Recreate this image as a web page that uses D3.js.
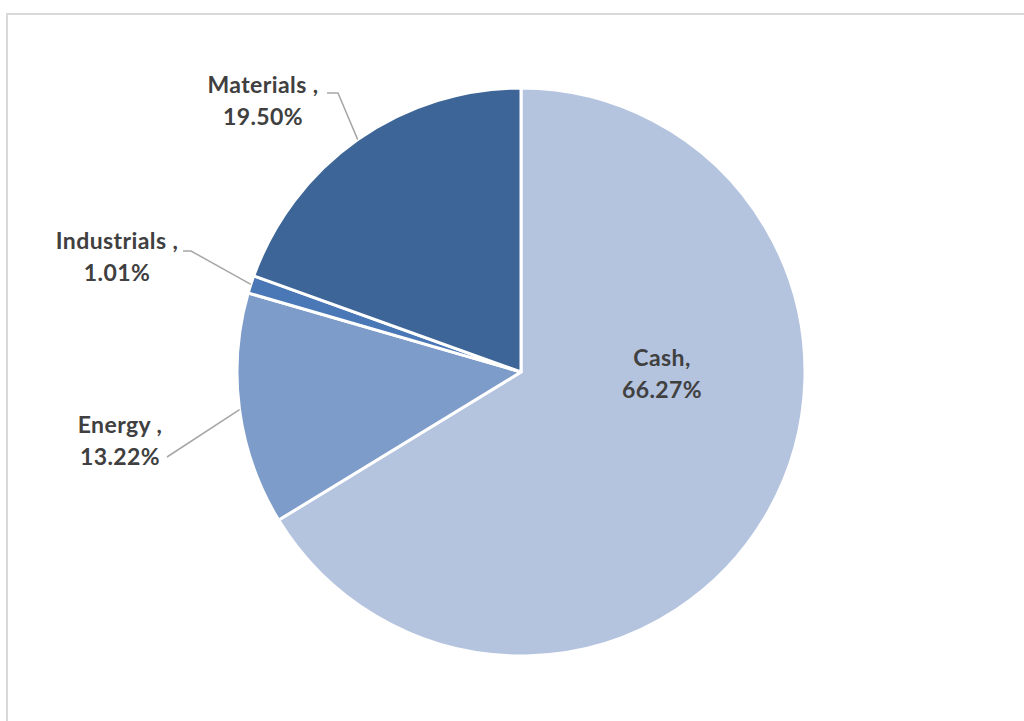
<!DOCTYPE html>
<html>
<head>
<meta charset="utf-8">
<script src="https://cdn.jsdelivr.net/npm/d3@7"></script>
<style>
  body { margin: 0; background: #fff; }
  text { font-family: Lato, "Open Sans", sans-serif; font-weight: bold; fill: #404040; }
</style>
</head>
<body>
<div id="chart"></div>
<script>
let w = 1024,
    h = 721;

// data, clockwise from 12 o'clock
let sectors = ["Cash", "Energy", "Industrials", "Materials"];
let shares = [66.27, 13.22, 1.01, 19.50];
let labelText = ["Cash,", "Energy ,", "Industrials ,", "Materials ,"];
let colors = ["#b4c3de", "#7e9cc9", "#4a78b6", "#3d6597"];

let cx = 521,
    cy = 372,
    radius = 284;

let svg = d3.select("#chart")
            .append("svg")
            .attr("width", w)
            .attr("height", h);

// chart border
svg.append("rect")
   .attr("x", 7)
   .attr("y", 14)
   .attr("width", w + 10)
   .attr("height", h + 10)
   .style("fill", "none")
   .style("stroke", "#d9d9d9")
   .style("stroke-width", 2);

let pie = d3.pie()
            .sort(null)
            .value(d => d);

let arc = d3.arc()
            .innerRadius(0)
            .outerRadius(radius);

let arcs = pie(shares);

let g = svg.append("g")
           .attr("transform", "translate(" + cx + "," + cy + ")");

g.selectAll(".slice")
 .data(arcs)
 .enter()
 .append("path")
 .attr("class", "slice")
 .attr("d", arc)
 .style("fill", (d, i) => colors[i])
 .style("stroke", "#fff")
 .style("stroke-width", 3)
 .style("stroke-linejoin", "round");

// label placement (absolute), leader line elbow points
let labelPos = [
  { x: 662, y: 358, line: null },
  { x: 120, y: 425, line: [[167, 457], null] },
  { x: 117, y: 241, line: [[183, 251], [191, 251], null] },
  { x: 263, y: 85, line: [[327, 93], [338, 93], null] }
];

arcs.forEach((d, i) => {
  let p = labelPos[i];
  let t = svg.append("text")
             .attr("text-anchor", "middle")
             .style("font-size", "23px")
             .style("letter-spacing", "0.4px");
  t.append("tspan")
   .attr("x", p.x)
   .attr("y", p.y + 8)
   .text(labelText[i]);
  t.append("tspan")
   .attr("x", p.x)
   .attr("y", p.y + 40)
   .text(shares[i].toFixed(2) + "%");

  if (p.line) {
    // end of leader line on the slice edge
    let a = (d.startAngle + d.endAngle) / 2;
    let end = [cx + radius * Math.sin(a), cy - radius * Math.cos(a)];
    let pts = p.line.map(q => q === null ? end : q);
    svg.append("path")
       .attr("d", d3.line()(pts))
       .style("fill", "none")
       .style("stroke", "#a6a6a6")
       .style("stroke-width", 1.5);
  }
});
</script>
</body>
</html>
